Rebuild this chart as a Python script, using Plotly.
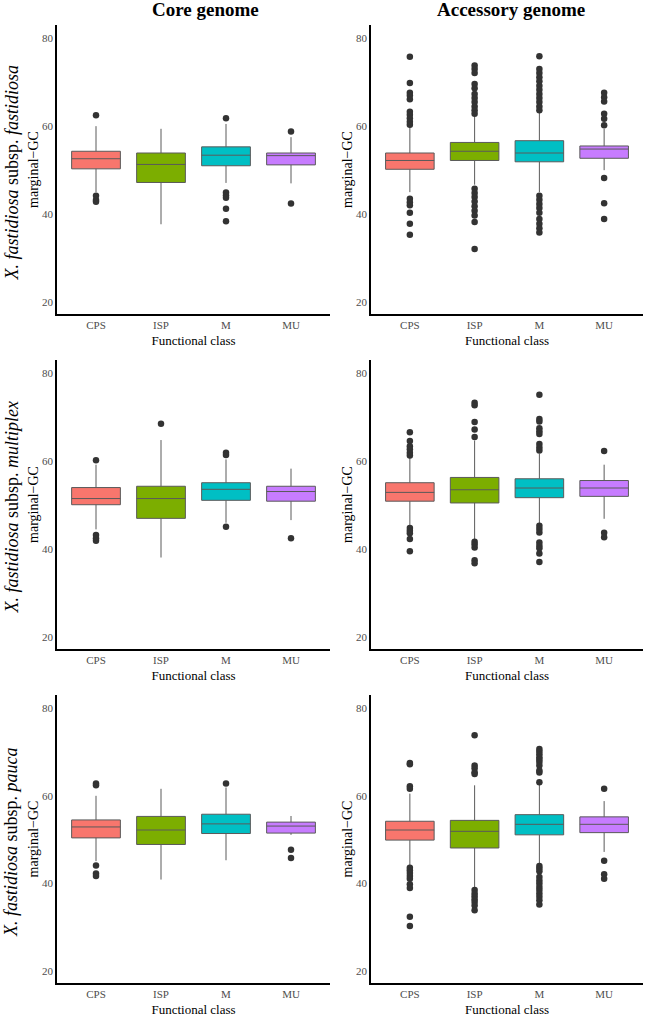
import plotly.graph_objects as go

categories = ["CPS", "ISP", "M", "MU"]
colors = ["#F8766D", "#7CAE00", "#00BFC4", "#C77CFF"]
col_titles = ["Core genome", "Accessory genome"]
row_titles = ["<i>X. fastidiosa</i> subsp. <i>fastidiosa</i>",
              "<i>X. fastidiosa</i> subsp. <i>multiplex</i>",
              "<i>X. fastidiosa</i> subsp. <i>pauca</i>"]
y_ticks = [20, 40, 60, 80]

# ---- subsp. fastidiosa, core genome ----
fas_core_low = [45.0, 37.7, 47.1, 47.0]
fas_core_q1 = [50.3, 47.2, 51.0, 51.2]
fas_core_med = [52.6, 51.3, 53.4, 53.3]
fas_core_q3 = [54.3, 53.9, 55.3, 53.9]
fas_core_high = [60.0, 59.4, 60.5, 57.5]
fas_core_out = [[62.5, 44.2, 43.2, 42.8], [], [61.8, 44.9, 44.3, 43.7, 41.2, 38.4], [58.8, 42.4]]

# ---- subsp. fastidiosa, accessory genome ----
fas_acc_low = [45.0, 46.7, 45.0, 50.0]
fas_acc_q1 = [50.2, 52.2, 51.9, 52.7]
fas_acc_med = [52.2, 54.3, 53.9, 54.8]
fas_acc_q3 = [53.9, 56.3, 56.7, 55.5]
fas_acc_high = [59.8, 62.4, 63.2, 59.4]
fas_acc_out = [
    [75.8, 69.8, 67.6, 67.0, 66.1, 63.3, 62.6, 61.8, 61.0, 60.3, 43.5, 42.7, 42.0, 40.3, 37.8, 35.3],
    [73.8, 73.0, 72.1, 69.6, 68.6, 67.3, 66.4, 65.5, 64.5, 63.6, 62.8,
     45.8, 44.8, 43.9, 42.9, 41.8, 40.8, 39.7, 38.2, 32.1],
    [75.9, 73.0, 72.1, 71.1, 70.2, 69.2, 68.3, 67.3, 66.4, 65.5, 64.5, 63.6,
     44.2, 43.3, 42.3, 41.4, 40.3, 38.9, 37.8, 36.8, 35.8],
    [67.6, 66.6, 65.6, 62.8, 61.7, 60.2, 48.2, 42.5, 38.9],
]

# ---- subsp. multiplex, core genome ----
mul_core_low = [44.5, 38.1, 46.0, 46.6]
mul_core_q1 = [50.1, 47.0, 51.1, 50.9]
mul_core_med = [51.5, 51.5, 53.6, 53.1]
mul_core_q3 = [54.0, 54.3, 55.1, 54.3]
mul_core_high = [59.2, 64.8, 60.4, 58.3]
mul_core_out = [[60.2, 43.2, 42.5, 41.9], [68.5], [61.9, 61.4, 45.1], [42.5]]

# ---- subsp. multiplex, accessory genome ----
mul_acc_low = [45.5, 42.0, 45.5, 46.9]
mul_acc_q1 = [50.9, 50.5, 51.7, 52.0]
mul_acc_med = [52.9, 53.5, 53.9, 53.9]
mul_acc_q3 = [55.1, 56.3, 56.0, 55.6]
mul_acc_high = [61.0, 64.7, 61.7, 59.2]
mul_acc_out = [
    [66.6, 64.6, 63.4, 62.7, 61.9, 61.3, 44.8, 44.2, 43.6, 42.3, 39.5],
    [73.3, 72.7, 68.9, 67.2, 65.5, 41.7, 41.1, 40.4, 37.5, 36.8],
    [75.1, 69.6, 69.0, 67.5, 66.8, 66.2, 63.9, 63.1, 62.4,
     45.3, 44.6, 43.8, 41.5, 40.8, 40.2, 39.0, 37.1],
    [62.3, 43.7, 42.7],
]

# ---- subsp. pauca, core genome ----
pau_core_low = [45.1, 40.9, 45.3, 51.1]
pau_core_q1 = [50.4, 48.9, 51.4, 51.5]
pau_core_med = [52.9, 52.2, 53.6, 53.1]
pau_core_q3 = [54.5, 55.3, 55.8, 54.0]
pau_core_high = [60.0, 61.6, 61.9, 55.4]
pau_core_out = [[62.8, 62.4, 44.1, 42.3, 41.7], [], [62.8], [47.7, 45.8]]

# ---- subsp. pauca, accessory genome ----
pau_acc_low = [44.2, 38.8, 44.2, 47.2]
pau_acc_q1 = [49.9, 48.1, 51.1, 51.6]
pau_acc_med = [52.2, 51.9, 53.5, 53.5]
pau_acc_q3 = [54.2, 54.4, 55.7, 55.2]
pau_acc_high = [60.5, 62.4, 62.5, 58.8]
pau_acc_out = [
    [67.5, 67.2, 62.2, 61.6, 43.6, 43.0, 42.4, 41.7, 41.1, 39.8, 39.0, 32.4, 30.3],
    [73.8, 66.9, 66.3, 65.4, 65.0, 38.5, 37.7, 37.1, 36.4, 35.8, 35.0, 33.9],
    [70.7, 70.1, 69.5, 68.8, 68.3, 67.7, 66.9, 65.8, 65.3, 63.1,
     44.0, 43.4, 42.8, 41.5, 40.7, 40.0, 39.2, 38.5, 37.7, 37.0, 36.2, 35.2],
    [61.6, 45.2, 42.1, 41.1],
]

panels = [
    (fas_core_low, fas_core_q1, fas_core_med, fas_core_q3, fas_core_high, fas_core_out),
    (fas_acc_low, fas_acc_q1, fas_acc_med, fas_acc_q3, fas_acc_high, fas_acc_out),
    (mul_core_low, mul_core_q1, mul_core_med, mul_core_q3, mul_core_high, mul_core_out),
    (mul_acc_low, mul_acc_q1, mul_acc_med, mul_acc_q3, mul_acc_high, mul_acc_out),
    (pau_core_low, pau_core_q1, pau_core_med, pau_core_q3, pau_core_high, pau_core_out),
    (pau_acc_low, pau_acc_q1, pau_acc_med, pau_acc_q3, pau_acc_high, pau_acc_out),
]

W, H = 646, 1019
FONT = "Liberation Serif"
x_dom = [[57 / W, 330 / W], [371 / W, 643 / W]]
row_px = [(25, 314), (360, 649), (695, 983)]
y_dom = [[1 - b / H, 1 - t / H] for (t, b) in row_px]

fig = go.Figure()
layout = {}
for i, (lo, q1, med, q3, hi, outs) in enumerate(panels):
    r, c = divmod(i, 2)
    n = i + 1
    xa = "x" if n == 1 else f"x{n}"
    ya = "y" if n == 1 else f"y{n}"
    for k, cat in enumerate(categories):
        fig.add_trace(go.Box(
            x=[cat], q1=[q1[k]], median=[med[k]], q3=[q3[k]],
            lowerfence=[lo[k]], upperfence=[hi[k]],
            fillcolor=colors[k], line=dict(color="#5a5a5a", width=1),
            whiskerwidth=0, width=0.75, boxpoints=False,
            xaxis=xa, yaxis=ya, showlegend=False, hoverinfo="skip"))
        if outs[k]:
            fig.add_trace(go.Scatter(
                x=[cat] * len(outs[k]), y=outs[k], mode="markers",
                marker=dict(color="#333333", size=6.5),
                xaxis=xa, yaxis=ya, showlegend=False, hoverinfo="skip"))
    layout["xaxis" if n == 1 else f"xaxis{n}"] = dict(
        domain=x_dom[c], anchor=ya, type="category",
        categoryorder="array", categoryarray=categories,
        range=[-0.6, 3.6], showline=True, linecolor="black", linewidth=1.5,
        showgrid=False, zeroline=False, ticks="",
        tickfont=dict(family=FONT, size=11, color="#4d4d4d"),
        title=dict(text="Functional class", standoff=6,
                   font=dict(family=FONT, size=13, color="black")))
    layout["yaxis" if n == 1 else f"yaxis{n}"] = dict(
        domain=y_dom[r], anchor=xa, range=[17.3, 83.0],
        tickvals=y_ticks, showline=True, linecolor="black", linewidth=1.5,
        showgrid=False, zeroline=False, ticks="",
        tickfont=dict(family=FONT, size=11, color="#4d4d4d"),
        title=dict(text="marginal−GC", standoff=0,
                   font=dict(family=FONT, size=14, color="black")))

annotations = []
for c, t in enumerate(col_titles):
    annotations.append(dict(text=f"<b>{t}</b>", x=[205, 511][c] / W, y=1 - 10 / H,
                            xref="paper", yref="paper", showarrow=False,
                            xanchor="center", yanchor="middle",
                            font=dict(family=FONT, size=19, color="black")))
for r, t in enumerate(row_titles):
    t_px, b_px = row_px[r]
    annotations.append(dict(text=t, x=11 / W, y=1 - ((t_px + b_px) / 2 + 3) / H,
                            xref="paper", yref="paper", showarrow=False,
                            textangle=-90, xanchor="center", yanchor="middle",
                            font=dict(family=FONT, size=18, color="black")))

fig.update_layout(**layout)
fig.update_layout(
    width=W, height=H, margin=dict(l=0, r=0, t=0, b=0),
    paper_bgcolor="white", plot_bgcolor="white",
    boxmode="overlay", annotations=annotations, showlegend=False)

fig.write_html("out.html", config={"displayModeBar": False},
               post_script="document.body.style.margin='0';document.body.style.overflow='hidden';")
